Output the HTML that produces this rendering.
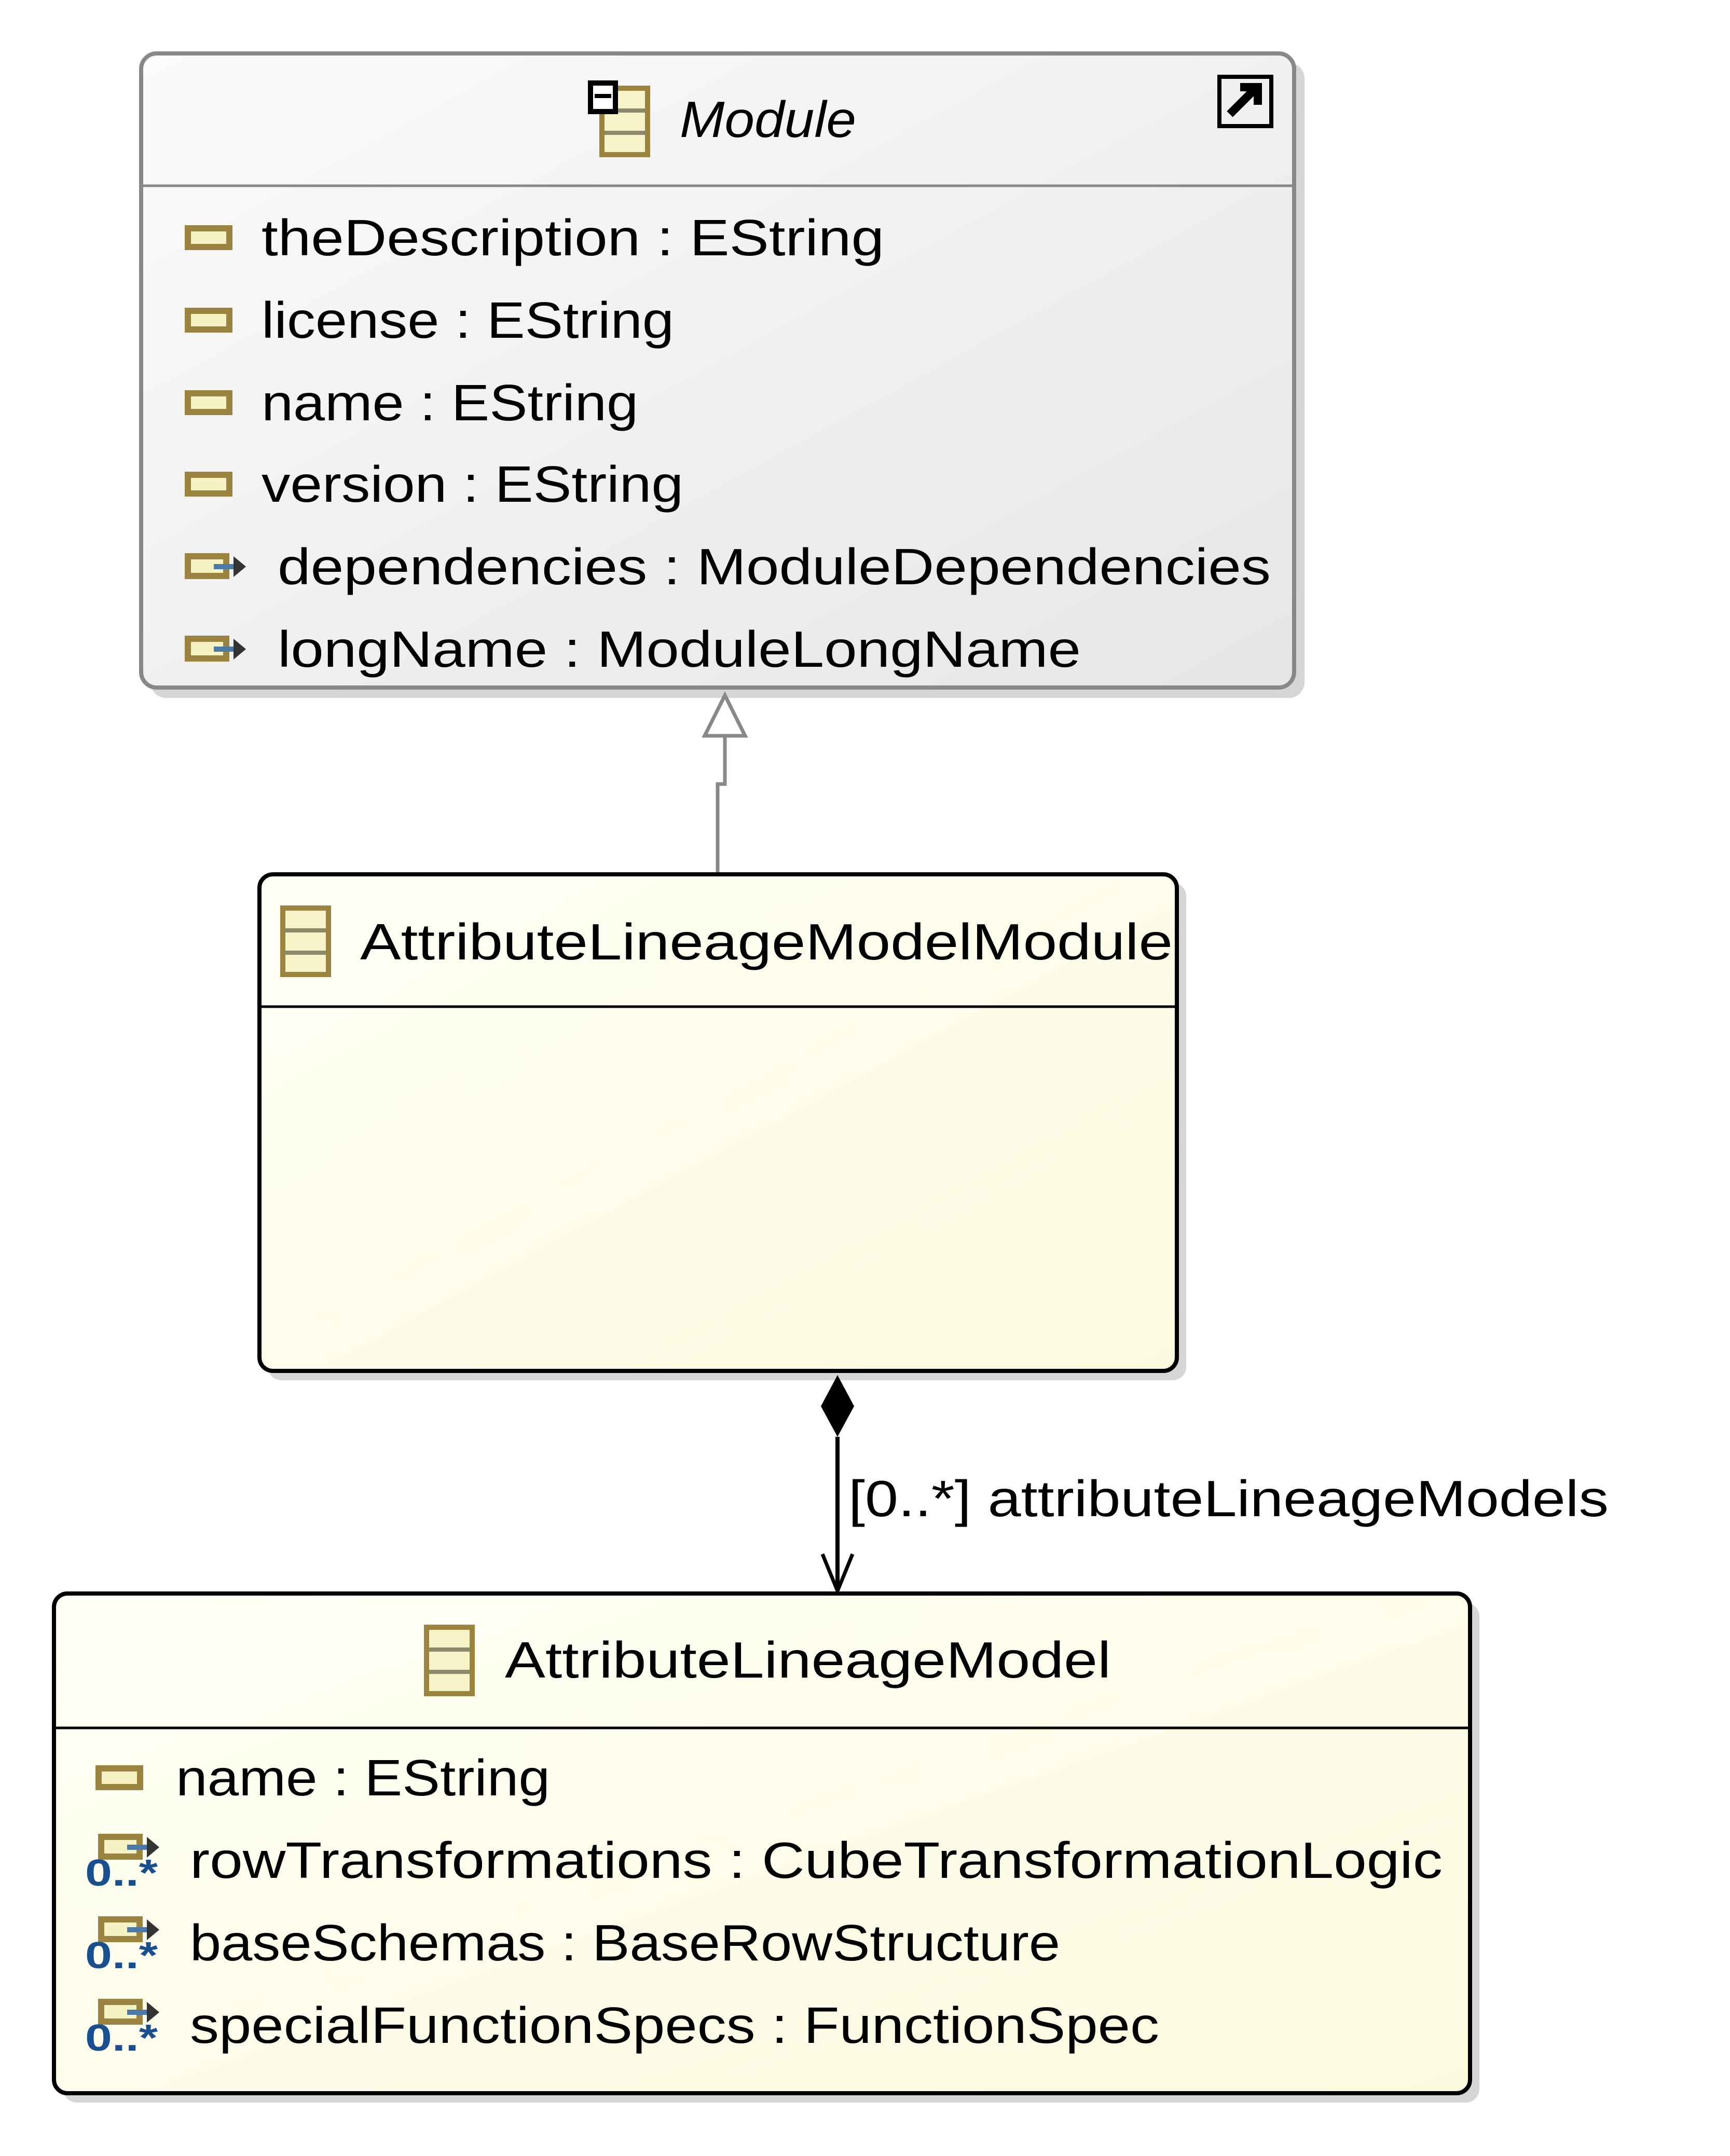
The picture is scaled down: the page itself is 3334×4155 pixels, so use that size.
<!DOCTYPE html>
<html><head><meta charset="utf-8"><style>
html,body{margin:0;padding:0;background:#fff}
svg{display:block}
text{font-family:"Liberation Sans",sans-serif;font-size:98px;fill:#000}
</style></head><body>
<svg width="3334" height="4155" viewBox="0 0 3334 4155" xmlns="http://www.w3.org/2000/svg">
<defs>
<linearGradient id="gg" x1="0" y1="0" x2="1" y2="1"><stop offset="0" stop-color="#fbfbfb"/><stop offset="1" stop-color="#e6e6e6"/></linearGradient>
<linearGradient id="gy" x1="0" y1="0" x2="1" y2="1"><stop offset="0" stop-color="#fffff6"/><stop offset="1" stop-color="#fcfade"/></linearGradient>
<g id="attr"><rect x="0" y="-18" width="80" height="36" fill="#f6f2c4" stroke="#9a8440" stroke-width="12"/></g>
<g id="ref"><rect x="0" y="-20" width="74" height="38" fill="#f6f2c4" stroke="#9a8440" stroke-width="12"/><path d="M50 0 H96" stroke="#4a7aa8" stroke-width="10"/><path d="M88 -20 L112 0 L88 20 Z" fill="#333"/></g>
<g id="cls"><rect x="0" y="0" width="88" height="128" fill="#f6f3c8" stroke="#9a8440" stroke-width="10"/><path d="M5 43 H83 M5 86 H83" stroke="#8a8a6a" stroke-width="8"/></g>
</defs>

<!-- Module -->
<rect x="290" y="121" width="2224" height="1224" rx="30" fill="#d6d6d6"/>
<rect x="272" y="103" width="2222" height="1222" rx="30" fill="url(#gg)" stroke="#888" stroke-width="8"/>
<line x1="275" y1="358" x2="2491" y2="358" stroke="#888" stroke-width="5"/>
<use href="#cls" x="1160" y="170"/>
<rect x="1138" y="160" width="48" height="55" fill="#fff" stroke="#000" stroke-width="10"/>
<path d="M1146 185 H1178" stroke="#000" stroke-width="8"/>
<text x="1310" y="264" font-style="italic" textLength="340" lengthAdjust="spacingAndGlyphs">Module</text>
<rect x="2350" y="148" width="100" height="95" fill="#f0f0f0" stroke="#000" stroke-width="8"/>
<path d="M2370 220 L2420 170 M2390 168 H2424 V202" stroke="#000" stroke-width="16" fill="none"/>
<use href="#attr" x="362" y="458"/><text x="504" y="492" textLength="1200" lengthAdjust="spacingAndGlyphs">theDescription : EString</text>
<use href="#attr" x="362" y="617"/><text x="504" y="651" textLength="795" lengthAdjust="spacingAndGlyphs">license : EString</text>
<use href="#attr" x="362" y="776"/><text x="504" y="810" textLength="726" lengthAdjust="spacingAndGlyphs">name : EString</text>
<use href="#attr" x="362" y="933"/><text x="504" y="967" textLength="813" lengthAdjust="spacingAndGlyphs">version : EString</text>
<use href="#ref" x="362" y="1092"/><text x="535" y="1126" textLength="1914" lengthAdjust="spacingAndGlyphs">dependencies : ModuleDependencies</text>
<use href="#ref" x="362" y="1251"/><text x="535" y="1285" textLength="1548" lengthAdjust="spacingAndGlyphs">longName : ModuleLongName</text>

<!-- generalization -->
<path d="M1397 1418 V1511 H1383 V1683" stroke="#888" stroke-width="7" fill="none"/>
<path d="M1397 1340 L1436 1418 L1358 1418 Z" fill="#fff" stroke="#888" stroke-width="7"/>

<!-- AttributeLineageModelModule -->
<rect x="516" y="1701" width="1770" height="959" rx="26" fill="#d6d6d6"/>
<rect x="500" y="1685" width="1768" height="957" rx="26" fill="url(#gy)" stroke="#000" stroke-width="8"/>
<line x1="503" y1="1940" x2="2265" y2="1940" stroke="#000" stroke-width="5"/>
<use href="#cls" x="545" y="1750"/>
<text x="694" y="1849" textLength="1566" lengthAdjust="spacingAndGlyphs">AttributeLineageModelModule</text>

<!-- composition -->
<path d="M1614 2769 V3066" stroke="#000" stroke-width="8"/>
<path d="M1614 2650 L1646 2710 L1614 2769 L1582 2710 Z" fill="#000"/>
<path d="M1585 2995 L1614 3066 L1643 2995" stroke="#000" stroke-width="7" fill="none"/>
<text x="1635" y="2922" textLength="1465" lengthAdjust="spacingAndGlyphs">[0..*] attributeLineageModels</text>

<!-- AttributeLineageModel -->
<rect x="122" y="3089" width="2729" height="963" rx="26" fill="#d6d6d6"/>
<rect x="104" y="3071" width="2729" height="963" rx="26" fill="url(#gy)" stroke="#000" stroke-width="8"/>
<line x1="107" y1="3330" x2="2830" y2="3330" stroke="#000" stroke-width="5"/>
<use href="#cls" x="822" y="3136"/>
<text x="973" y="3233" textLength="1168" lengthAdjust="spacingAndGlyphs">AttributeLineageModel</text>
<use href="#attr" x="190" y="3426"/><text x="339" y="3460" textLength="721" lengthAdjust="spacingAndGlyphs">name : EString</text>
<g>
<use href="#ref" x="195" y="3560"/><text x="164" y="3634" textLength="140" lengthAdjust="spacingAndGlyphs" style="font-size:72px;fill:#1a4f8f;font-weight:bold">0..*</text>
<text x="366" y="3619" textLength="2414" lengthAdjust="spacingAndGlyphs">rowTransformations : CubeTransformationLogic</text>
</g>
<g>
<use href="#ref" x="195" y="3719"/><text x="164" y="3793" textLength="140" lengthAdjust="spacingAndGlyphs" style="font-size:72px;fill:#1a4f8f;font-weight:bold">0..*</text>
<text x="366" y="3778" textLength="1677" lengthAdjust="spacingAndGlyphs">baseSchemas : BaseRowStructure</text>
</g>
<g>
<use href="#ref" x="195" y="3878"/><text x="164" y="3952" textLength="140" lengthAdjust="spacingAndGlyphs" style="font-size:72px;fill:#1a4f8f;font-weight:bold">0..*</text>
<text x="366" y="3937" textLength="1868" lengthAdjust="spacingAndGlyphs">specialFunctionSpecs : FunctionSpec</text>
</g>
</svg>
</body></html>
